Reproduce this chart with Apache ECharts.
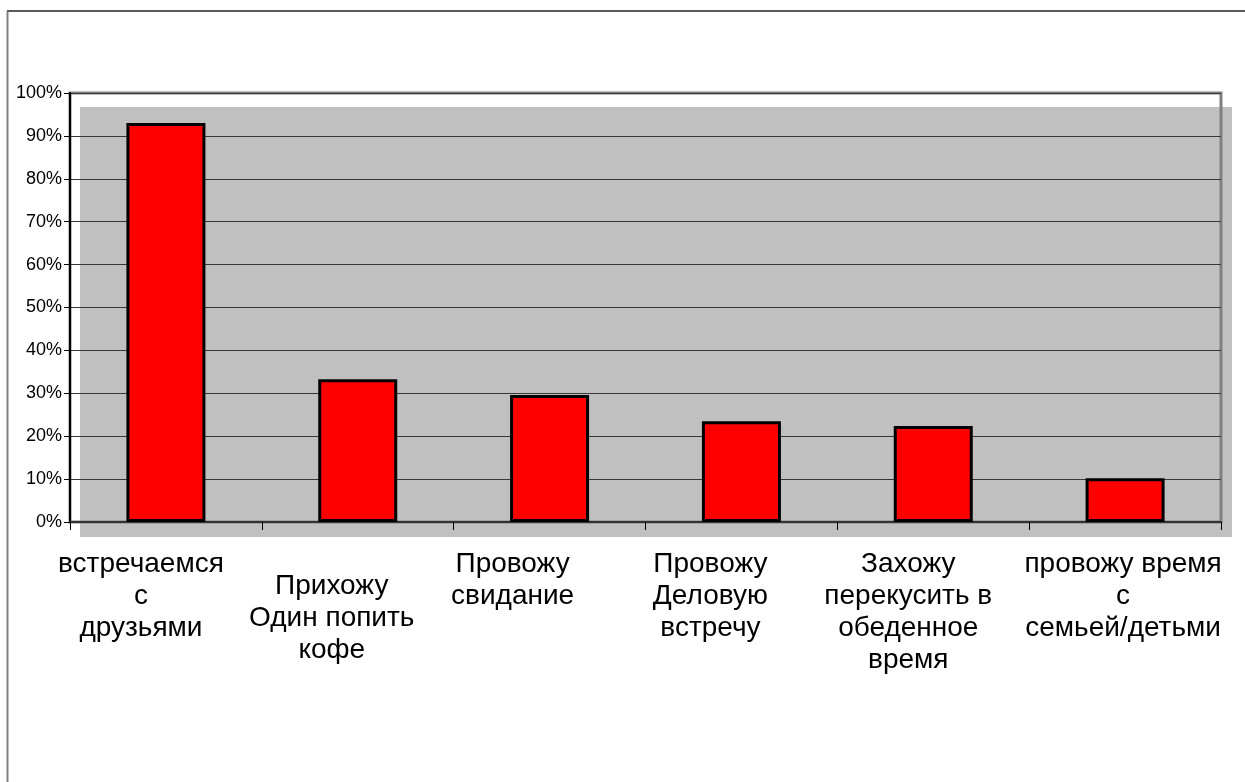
<!DOCTYPE html>
<html>
<head>
<meta charset="utf-8">
<script src="https://cdn.jsdelivr.net/npm/echarts@6/dist/echarts.min.js"></script>
<style>
  html, body { margin: 0; padding: 0; background: #ffffff; }
  #chart { width: 1245px; height: 782px; }
</style>
</head>
<body>
<div id="chart"></div>
<script>
// Reasons for visiting, share of respondents (%)
const categories = [
  'встречаемся\nс\nдрузьями',
  'Прихожу\nОдин попить\nкофе',
  'Провожу\nсвидание',
  'Провожу\nДеловую\nвстречу',
  'Захожу\nперекусить в\nобеденное\nвремя',
  'провожу время\nс\nсемьей/детьми'
];
const shares = [93.0, 33.3, 29.6, 23.5, 22.4, 10.2];
const yMin = 0;
const yMax = 100;
const yStep = 10;

const chart = echarts.init(document.getElementById('chart'), null, { renderer: 'canvas' });

// per-label box padding [top, right, bottom, left] used to place each wrapped label
const labelPadding = [
  [0, 50, 0, 0],
  [22, 52, 0, 0],
  [0, 74, 0, 0],
  [0, 62, 0, 0],
  [0, 50, 0, 0],
  [0, 4, 0, 0]
];

const categoryData = categories.map((name, i) => ({
  value: name,
  textStyle: { padding: labelPadding[i] }
}));

chart.setOption({
  animation: false,
  backgroundColor: '#ffffff',
  graphic: [
    // frame lines of the chart area
    { type: 'line', z: 0, shape: { x1: 7, y1: 11, x2: 1245, y2: 11 },
      style: { stroke: '#222222', lineWidth: 1.5 } },
    { type: 'line', z: 0, shape: { x1: 7.5, y1: 11, x2: 7.5, y2: 782 },
      style: { stroke: '#808080', lineWidth: 2 } },
    // shaded plot backdrop
    { type: 'rect', z: -10, silent: true,
      shape: { x: 80, y: 107, width: 1152, height: 430 },
      style: { fill: '#c0c0c0' } }
  ],
  grid: {
    left: 70, top: 93, right: 24, bottom: 260,
    show: true,
    borderColor: '#808080',
    borderWidth: 3,
    backgroundColor: 'transparent'
  },
  xAxis: {
    type: 'category',
    data: categoryData,
    boundaryGap: true,
    axisLine: { show: true, lineStyle: { color: '#333333', width: 2 } },
    axisTick: { show: true, alignWithLabel: false, length: 8, inside: false,
      lineStyle: { color: '#000000', width: 1 } },
    axisLabel: {
      margin: 26,
      interval: 0,
      align: 'center',
      fontFamily: 'Liberation Sans, Arial, sans-serif',
      fontSize: 28,
      lineHeight: 32,
      color: '#000000'
    },
    splitLine: { show: false }
  },
  yAxis: {
    type: 'value',
    min: yMin,
    max: yMax,
    interval: yStep,
    axisLine: { show: true, lineStyle: { color: '#000000', width: 2 } },
    axisTick: { show: true, length: 6, lineStyle: { color: '#000000', width: 1 } },
    axisLabel: {
      formatter: '{value}%',
      margin: 8,
      fontFamily: 'Liberation Sans, Arial, sans-serif',
      fontSize: 18,
      color: '#000000'
    },
    splitLine: { show: true, lineStyle: { color: '#383838', width: 1.2 } }
  },
  series: [{
    type: 'bar',
    data: shares,
    barWidth: 79,
    itemStyle: {
      color: '#ff0000',
      borderColor: '#000000',
      borderWidth: 3
    },
    z: 3
  }]
});
</script>
</body>
</html>
